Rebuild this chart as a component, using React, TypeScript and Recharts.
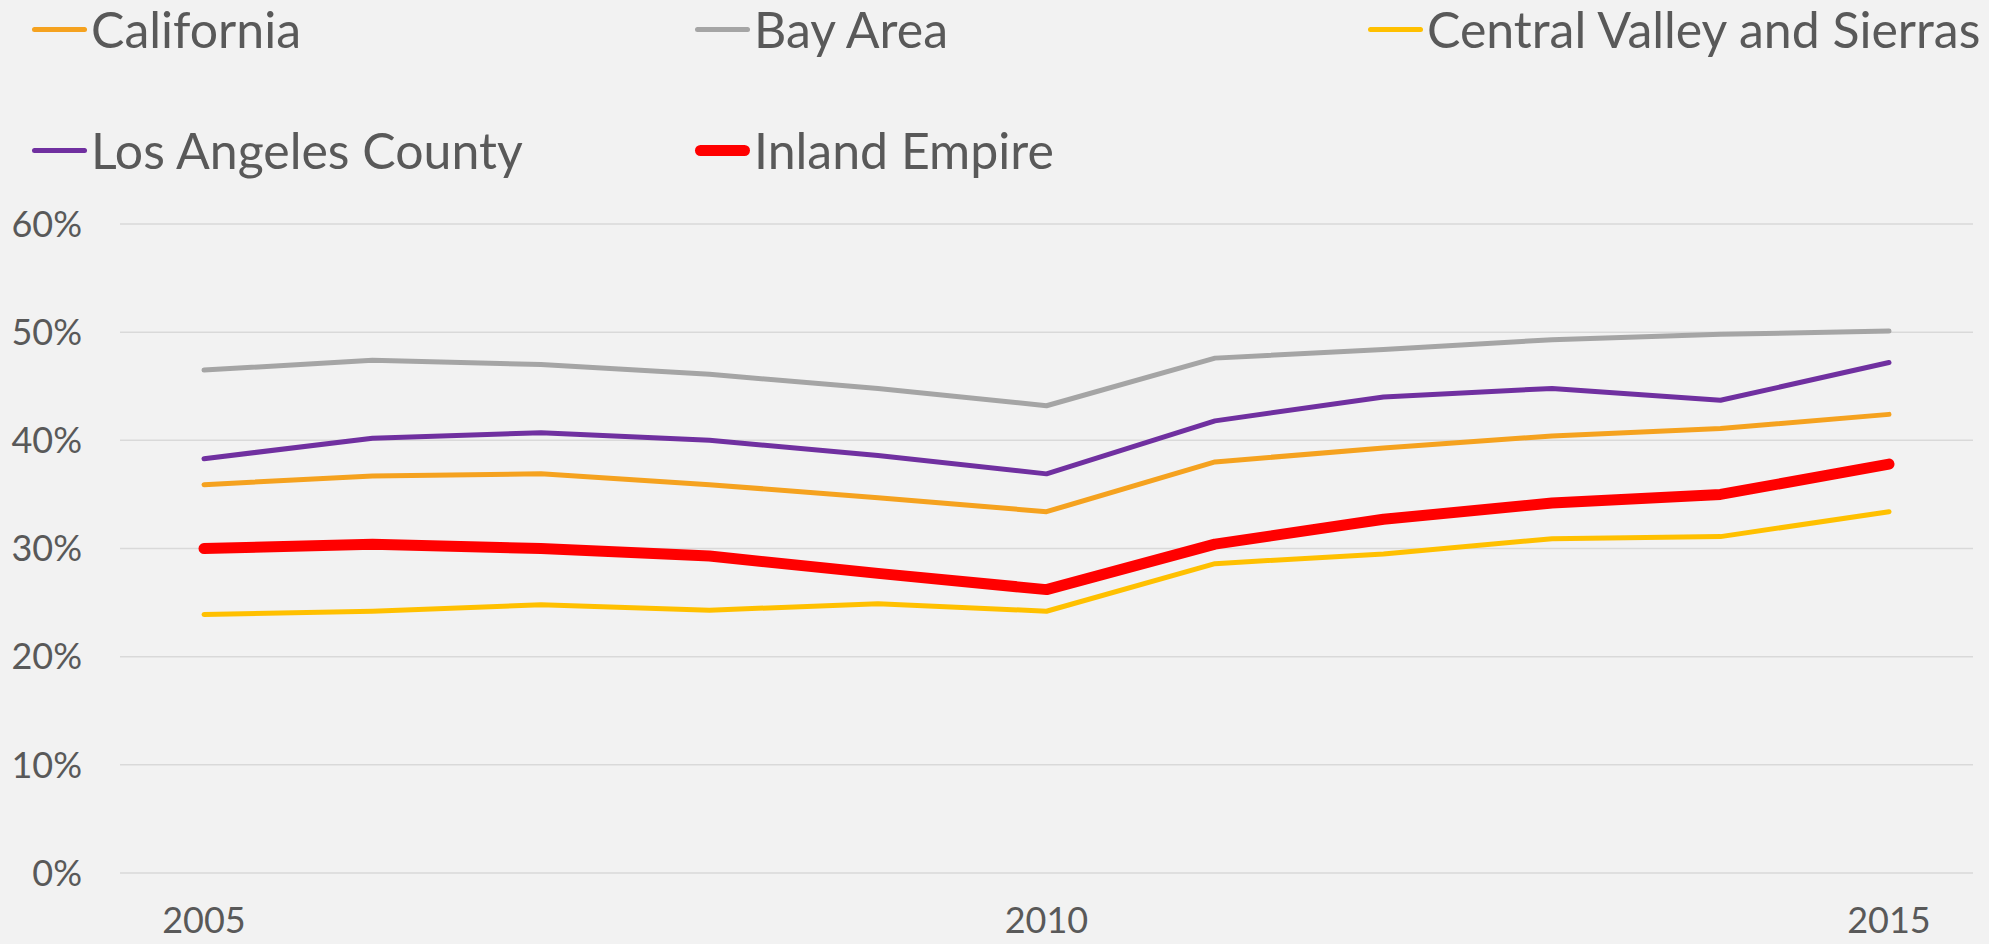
import React from 'react';
import { LineChart, Line, XAxis, YAxis, CartesianGrid } from 'recharts';

const years = ['2005', '2006', '2007', '2008', '2009', '2010', '2011', '2012', '2013', '2014', '2015'];

const california = [35.9, 36.7, 36.9, 35.9, 34.7, 33.4, 38.0, 39.3, 40.4, 41.1, 42.4];
const bayArea = [46.5, 47.4, 47.0, 46.1, 44.8, 43.2, 47.6, 48.4, 49.3, 49.8, 50.1];
const centralValley = [23.9, 24.2, 24.8, 24.3, 24.9, 24.2, 28.6, 29.5, 30.9, 31.1, 33.4];
const laCounty = [38.3, 40.2, 40.7, 40.0, 38.6, 36.9, 41.8, 44.0, 44.8, 43.7, 47.2];
const inlandEmpire = [30.0, 30.4, 30.0, 29.3, 27.7, 26.2, 30.4, 32.7, 34.2, 35.0, 37.8];

const yTicks = [0, 10, 20, 30, 40, 50, 60];

const series = [
  { key: 'california', name: 'California', color: '#F5A21F', width: 5, values: california },
  { key: 'bayArea', name: 'Bay Area', color: '#A5A5A5', width: 5, values: bayArea },
  { key: 'centralValley', name: 'Central Valley and Sierras', color: '#FFC000', width: 5, values: centralValley },
  { key: 'laCounty', name: 'Los Angeles County', color: '#7030A0', width: 5, values: laCounty },
  { key: 'inlandEmpire', name: 'Inland Empire', color: '#FF0000', width: 11, values: inlandEmpire },
];

const data = years.map((year, i) => {
  const row: Record<string, string | number> = { year };
  series.forEach((s) => {
    row[s.key] = s.values[i];
  });
  return row;
});

const FONT = '"Gill Sans", "Gill Sans MT", Lato, "Open Sans", sans-serif';
const TEXT = '#595959';

// legend slots: 3 columns, 2 rows
const legendCols = [32, 695, 1368];
const legendRows = [29, 150];

const App: React.FC = () => {
  return (
    <div style={{ position: 'relative', width: 1989, height: 944, background: '#F2F2F2', fontFamily: FONT, overflow: 'hidden' }}>
      <style>{'body{margin:0;background:#F2F2F2}'}</style>
      <LineChart width={1989} height={944} data={data} margin={{ top: 224, right: 16, bottom: 0, left: 0 }}>
        <CartesianGrid vertical={false} stroke="#D9D9D9" strokeWidth={1.5} />
        <XAxis
          dataKey="year"
          interval={4}
          axisLine={false}
          tickLine={false}
          tickSize={0}
          tickMargin={34}
          height={71}
          padding={{ left: 84, right: 84 }}
          tick={{ fill: TEXT, fontSize: 36, fontFamily: FONT }}
        />
        <YAxis
          domain={[0, 60]}
          ticks={yTicks}
          width={120}
          axisLine={false}
          tickLine={false}
          tickSize={0}
          tickMargin={38}
          tickFormatter={(v: number) => `${v}%`}
          tick={{ fill: TEXT, fontSize: 36, fontFamily: FONT }}
        />
        {series.map((s) => (
          <Line
            key={s.key}
            type="linear"
            dataKey={s.key}
            name={s.name}
            stroke={s.color}
            strokeWidth={s.width}
            strokeLinecap="round"
            strokeLinejoin="round"
            dot={false}
            isAnimationActive={false}
          />
        ))}
      </LineChart>
      {series.map((s, i) => (
        <div
          key={s.key}
          style={{
            position: 'absolute',
            left: legendCols[i % 3],
            top: legendRows[Math.floor(i / 3)] - 30,
            height: 60,
            display: 'flex',
            alignItems: 'center',
            whiteSpace: 'nowrap',
          }}
        >
          <div style={{ width: 55, height: s.width, background: s.color, borderRadius: s.width / 2, marginRight: 4 }} />
          <span style={{ fontSize: 50, color: TEXT, lineHeight: '60px' }}>{s.name}</span>
        </div>
      ))}
    </div>
  );
};

export default App;
